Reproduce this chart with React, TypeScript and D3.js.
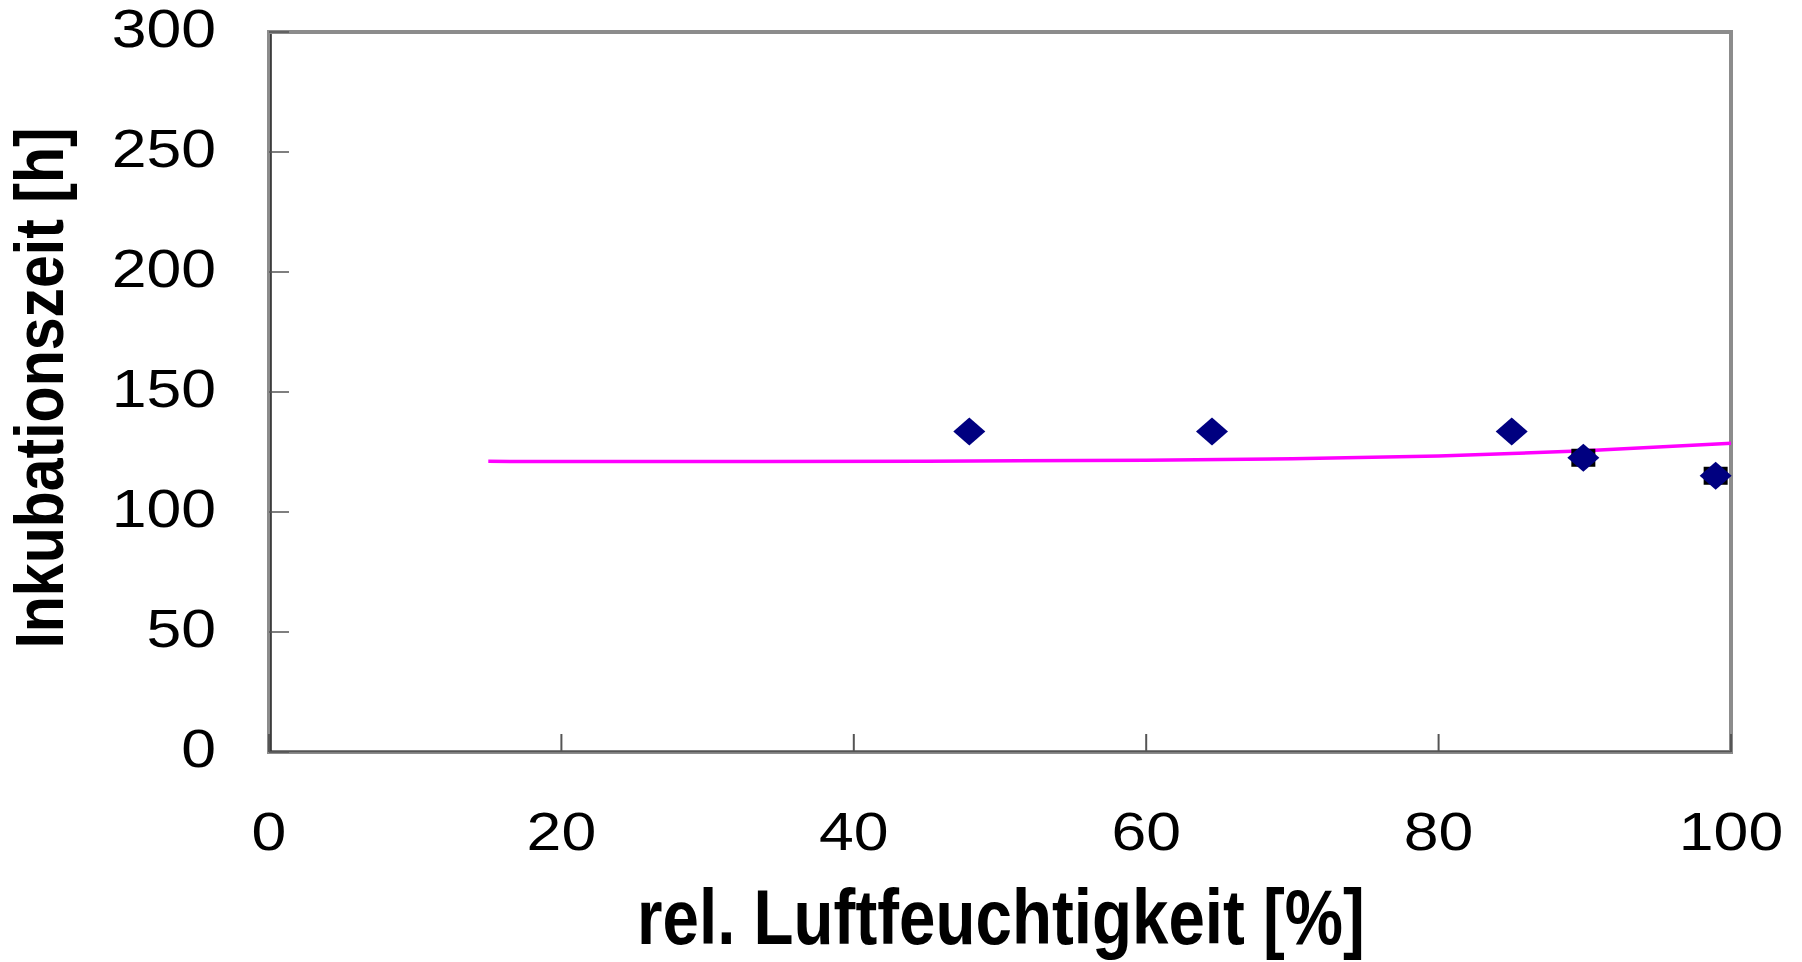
import React from "react";
import * as d3 from "d3";

const humidity = [47.9, 64.5, 85.0, 89.9, 98.95];
const incubation = [133.5, 133.5, 133.5, 122.6, 115.1];
const overlayX = [89.9, 98.95];
const overlayY = [122.6, 115.1];
const trendX = [15, 30, 45, 60, 70, 80, 90, 100];
const trendY = [121.1, 121.0, 121.1, 121.6, 122.2, 123.3, 125.5, 128.6];
const xTicks = [0, 20, 40, 60, 80, 100];
const yTicks = [0, 50, 100, 150, 200, 250, 300];

const W = 1802;
const H = 962;
const M = { left: 269, right: 1731, top: 32, bottom: 752 };

export default function App() {
  const x = d3.scaleLinear().domain([0, 100]).range([M.left, M.right]);
  const y = d3.scaleLinear().domain([0, 300]).range([M.bottom, M.top]);
  const line = d3
    .line<number>()
    .x((_, i) => x(trendX[i]))
    .y((d) => y(d))
    .curve(d3.curveMonotoneX);
  const diamond = (cx: number, cy: number) =>
    `M${cx - 16},${cy} L${cx},${cy - 14} L${cx + 16},${cy} L${cx},${cy + 14} Z`;
  const font = "'Liberation Sans', Arial, sans-serif";
  return (
    <svg
      width={W}
      height={H}
      style={{ position: "absolute", left: 0, top: 0 }}
      fontFamily={font}
    >
      <rect x={0} y={0} width={W} height={H} fill="#fff" />
      <rect
        x={M.left}
        y={M.top}
        width={M.right - M.left}
        height={M.bottom - M.top}
        fill="none"
        stroke="#8c8c8c"
        strokeWidth={4}
      />
      <line x1={x(0) + 2} x2={x(0) + 2} y1={y(300) + 2} y2={y(0)} stroke="#222" strokeWidth={1.5} />
      <line x1={x(0)} x2={x(100)} y1={y(0) - 0.5} y2={y(0) - 0.5} stroke="#555" strokeWidth={1.5} />
      {yTicks.map((t) => (
        <g key={"y" + t}>
          <line x1={x(0)} x2={x(0) + 20} y1={y(t)} y2={y(t)} stroke="#555" strokeWidth={1.5} />
          <text
            transform={`translate(216, ${y(t) - 3}) scale(1.18,1)`}
            textAnchor="end"
            dominantBaseline="central"
            fontSize={53}
            fill="#000"
          >
            {t}
          </text>
        </g>
      ))}
      {xTicks.map((t) => (
        <g key={"x" + t}>
          <line x1={x(t)} x2={x(t)} y1={y(0)} y2={y(0) - 18} stroke="#555" strokeWidth={2} />
          <text
            transform={`translate(${x(t)}, 832) scale(1.18,1)`}
            textAnchor="middle"
            dominantBaseline="central"
            fontSize={53}
            fill="#000"
          >
            {t}
          </text>
        </g>
      ))}
      <path d={line(trendY) || ""} fill="none" stroke="#ff00ff" strokeWidth={3.5} />
      {overlayX.map((v, i) => (
        <rect
          key={"s" + i}
          x={x(v) - 12}
          y={y(overlayY[i]) - 9}
          width={24}
          height={18}
          fill="#000"
        />
      ))}
      {humidity.map((v, i) => (
        <path key={"d" + i} d={diamond(x(v), y(incubation[i]))} fill="#000080" />
      ))}
      <text
        transform={`translate(1001, 944) scale(0.84,1)`}
        textAnchor="middle"
        fontSize={78}
        fontWeight="bold"
        fill="#000"
      >
        rel. Luftfeuchtigkeit [%]
      </text>
      <text
        transform={`translate(63, 388) rotate(-90) scale(0.868,1)`}
        textAnchor="middle"
        fontSize={68}
        fontWeight="bold"
        fill="#000"
      >
        Inkubationszeit [h]
      </text>
    </svg>
  );
}
